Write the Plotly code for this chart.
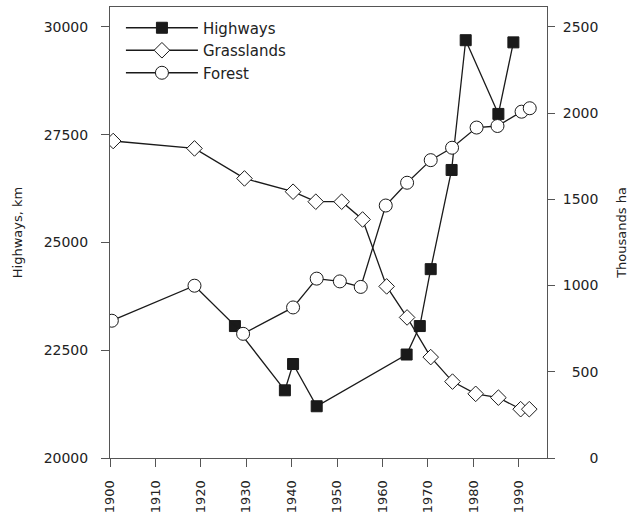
import plotly.graph_objects as go

# ---- data ----
highway_years = [1927.5, 1938.5, 1940.3, 1945.5, 1965.3, 1968.2, 1970.6, 1975.2, 1978.3, 1985.5, 1988.8]
highway_km = [23060, 21570, 22180, 21200, 22400, 23060, 24380, 26680, 29690, 27980, 29640]

grass_years = [1900.7, 1918.6, 1929.6, 1940.3, 1945.3, 1951.0, 1955.6, 1960.9, 1965.4, 1970.6, 1975.4, 1980.5, 1985.5, 1990.4, 1992.3]
grass_kha = [1838, 1795, 1621, 1544, 1486, 1486, 1383, 995, 815, 585, 443, 372, 350, 283, 283]

forest_years = [1900.4, 1918.6, 1929.3, 1940.3, 1945.5, 1950.6, 1955.2, 1960.7, 1965.4, 1970.6, 1975.3, 1980.7, 1985.3, 1990.6, 1992.4]
forest_kha = [796, 999, 720, 873, 1040, 1024, 992, 1464, 1596, 1727, 1799, 1916, 1925, 2008, 2028]

x_ticks = [1900, 1910, 1920, 1930, 1940, 1950, 1960, 1970, 1980, 1990]
left_ticks = [20000, 22500, 25000, 27500, 30000]
left_tick_text = ["20000", "22500", "25000", "27500", "30000"]
right_ticks = [0, 500, 1000, 1500, 2000, 2500]
right_tick_text = ["\u2007\u2007\u20070", "\u2007500", "1000", "1500", "2000", "2500"]

FONT = "DejaVu Sans"
LINE = "#1a1a1a"
AXIS = "#555555"

fig = go.Figure()
fig.add_trace(go.Scatter(
    x=highway_years, y=highway_km, name="Highways", mode="lines+markers",
    line=dict(color=LINE, width=1.3),
    marker=dict(symbol="square", size=11, color="#1a1a1a", line=dict(color="#1a1a1a", width=1)),
    yaxis="y"))
fig.add_trace(go.Scatter(
    x=grass_years, y=grass_kha, name="Grasslands", mode="lines+markers",
    line=dict(color=LINE, width=1.3),
    marker=dict(symbol="diamond", size=12, color="white", line=dict(color="#1a1a1a", width=1)),
    yaxis="y2"))
fig.add_trace(go.Scatter(
    x=forest_years, y=forest_kha, name="Forest", mode="lines+markers",
    line=dict(color=LINE, width=1.3),
    marker=dict(symbol="circle", size=13, color="white", line=dict(color="#1a1a1a", width=1)),
    yaxis="y2"))

fig.update_layout(
    width=630, height=518,
    margin=dict(l=110, r=83, t=7, b=60, autoexpand=False),
    paper_bgcolor="white", plot_bgcolor="white",
    font=dict(family=FONT, size=14, color="#222222"),
    showlegend=True,
    legend=dict(x=0.025, y=0.99, xanchor="left", yanchor="top",
                bgcolor="rgba(0,0,0,0)", borderwidth=0,
                font=dict(family=FONT, size=15, color="#222222"),
                itemwidth=72, tracegroupgap=0),
    xaxis=dict(range=[1900, 1996.2], tickvals=x_ticks, tickangle=-90,
               showgrid=False, zeroline=False, showline=True, linecolor=AXIS, linewidth=1,
               mirror=True, ticks="outside", ticklen=8, tickcolor=AXIS,
               ticklabelstandoff=8, tickfont=dict(size=13)),
    yaxis=dict(range=[20000, 30460], tickvals=left_ticks, ticktext=left_tick_text,
               showgrid=False, zeroline=False, showline=True, linecolor=AXIS, linewidth=1,
               ticks="outside", ticklen=8, tickcolor=AXIS, ticklabelstandoff=10,
               title=dict(text="Highways, km", font=dict(size=13), standoff=18)),
    yaxis2=dict(range=[0, 2615], tickvals=right_ticks, ticktext=right_tick_text,
                overlaying="y", side="right",
                showgrid=False, zeroline=False, showline=True, linecolor=AXIS, linewidth=1,
                ticks="outside", ticklen=7, tickcolor=AXIS, ticklabelstandoff=5,
                title=dict(text="Thousands ha", font=dict(size=13), standoff=19)),
)

fig.write_html("out.html", config={"displayModeBar": False},
               post_script="document.body.style.margin='0';")
